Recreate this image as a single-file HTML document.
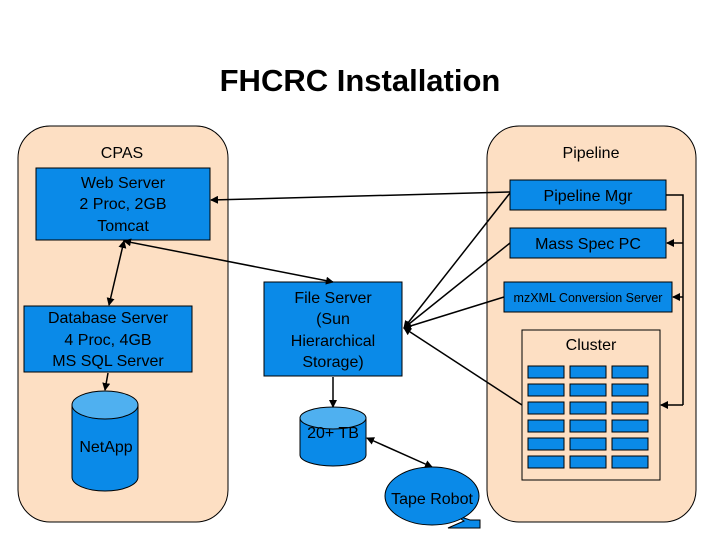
<!DOCTYPE html>
<html><head><meta charset="utf-8"><style>
html,body{margin:0;padding:0;background:#fff;}
svg{display:block;font-family:"Liberation Sans",Arial,sans-serif;}
</style></head><body>
<svg width="720" height="540" viewBox="0 0 720 540" xmlns="http://www.w3.org/2000/svg">
<defs>
<marker id="a" markerWidth="8" markerHeight="8" refX="7" refY="4" orient="auto-start-reverse" markerUnits="userSpaceOnUse"><path d="M0,0 L8,4 L0,8 z" fill="#000"/></marker>
</defs>
<text x="360" y="91" font-size="31" font-weight="bold" text-anchor="middle">FHCRC Installation</text>
<rect x="18" y="126" width="210" height="396" rx="32" fill="#fddfc3" stroke="#000"/>
<rect x="487" y="126" width="209" height="396" rx="32" fill="#fddfc3" stroke="#000"/>
<text x="122" y="158" font-size="16" text-anchor="middle">CPAS</text>
<text x="591" y="158" font-size="16" text-anchor="middle">Pipeline</text>
<g fill="#0a8ae8" stroke="#000">
<rect x="36" y="168" width="174" height="72"/>
<rect x="24" y="306" width="168" height="66"/>
<rect x="264" y="282" width="138" height="94"/>
<rect x="510" y="180" width="156" height="30"/>
<rect x="510" y="228" width="156" height="30"/>
<rect x="504" y="282" width="168" height="30"/>
</g>
<rect x="522" y="330" width="138" height="150" fill="#fddfc3" stroke="#000"/>
<g fill="#0a8ae8" stroke="#000">
<path d="M72,405 v72 a33,14 0 0 0 66,0 v-72"/>
<ellipse cx="105" cy="405" rx="33" ry="14" fill="#4fb0f0"/>
<path d="M300,418 v37 a33,11 0 0 0 66,0 v-37"/>
<ellipse cx="333" cy="418" rx="33" ry="11" fill="#4fb0f0"/>
<polygon points="455,515 470,520 480,520 480,528 448,528 464,521"/>
<ellipse cx="432" cy="496" rx="47" ry="29"/>
</g>
<g fill="#0a8ae8" stroke="#000" stroke-width="1">
<rect x="528" y="366" width="36" height="12"/><rect x="570" y="366" width="36" height="12"/><rect x="612" y="366" width="36" height="12"/>
<rect x="528" y="384" width="36" height="12"/><rect x="570" y="384" width="36" height="12"/><rect x="612" y="384" width="36" height="12"/>
<rect x="528" y="402" width="36" height="12"/><rect x="570" y="402" width="36" height="12"/><rect x="612" y="402" width="36" height="12"/>
<rect x="528" y="420" width="36" height="12"/><rect x="570" y="420" width="36" height="12"/><rect x="612" y="420" width="36" height="12"/>
<rect x="528" y="438" width="36" height="12"/><rect x="570" y="438" width="36" height="12"/><rect x="612" y="438" width="36" height="12"/>
<rect x="528" y="456" width="36" height="12"/><rect x="570" y="456" width="36" height="12"/><rect x="612" y="456" width="36" height="12"/>
</g>
<g font-size="16" text-anchor="middle" fill="#000">
<text x="123" y="188">Web Server</text><text x="123" y="209">2 Proc, 2GB</text><text x="123" y="231">Tomcat</text>
<text x="108" y="323">Database Server</text><text x="108" y="345">4 Proc, 4GB</text><text x="108" y="366">MS SQL Server</text>
<text x="333" y="303">File Server</text><text x="333" y="324">(Sun</text><text x="333" y="346">Hierarchical</text><text x="333" y="367">Storage)</text>
<text x="588" y="201">Pipeline Mgr</text>
<text x="588" y="249">Mass Spec PC</text>
<text x="588" y="302" font-size="12.5">mzXML Conversion Server</text>
<text x="591" y="350">Cluster</text>
<text x="106" y="452">NetApp</text>
<text x="333" y="438">20+ TB</text>
<text x="432" y="504">Tape Robot</text>
</g>
<g stroke="#000" stroke-width="1.5" fill="none">
<line x1="510" y1="192" x2="211" y2="200" marker-end="url(#a)"/>
<line x1="124" y1="241" x2="333" y2="282" marker-start="url(#a)" marker-end="url(#a)"/>
<line x1="124" y1="241" x2="109" y2="305" marker-start="url(#a)" marker-end="url(#a)"/>
<line x1="108" y1="373" x2="105" y2="390" marker-end="url(#a)"/>
<line x1="333" y1="377" x2="333" y2="407" marker-end="url(#a)"/>
<line x1="367" y1="438" x2="432" y2="467" marker-start="url(#a)" marker-end="url(#a)"/>
<line x1="510" y1="193" x2="404" y2="328" marker-end="url(#a)"/>
<line x1="510" y1="243" x2="404" y2="328" marker-end="url(#a)"/>
<line x1="504" y1="297" x2="404" y2="328" marker-end="url(#a)"/>
<line x1="522" y1="405" x2="404" y2="328" marker-end="url(#a)"/>
<polyline points="666,195 683,195 683,405"/>
<line x1="683" y1="243" x2="667" y2="243" marker-end="url(#a)"/>
<line x1="683" y1="297" x2="673" y2="297" marker-end="url(#a)"/>
<line x1="683" y1="405" x2="661" y2="405" marker-end="url(#a)"/>
</g>
</svg>
</body></html>
